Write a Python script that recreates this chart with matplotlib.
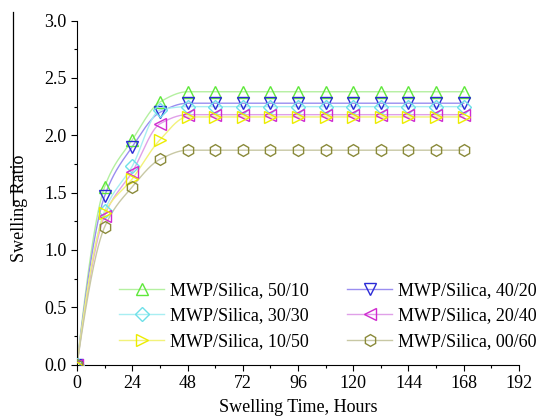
import numpy as np
import matplotlib
matplotlib.use("Agg")
import matplotlib.pyplot as plt
from matplotlib.lines import Line2D
from matplotlib.ticker import MultipleLocator

plt.rcParams['font.family'] = ['Liberation Serif', 'DejaVu Serif']

hours = [0, 12, 24, 36, 48, 60, 72, 84, 96, 108, 120, 132, 144, 156, 168]
labels = ["MWP/Silica, 50/10", "MWP/Silica, 40/20", "MWP/Silica, 30/30",
          "MWP/Silica, 20/40", "MWP/Silica, 10/50", "MWP/Silica, 00/60"]
s50_10 = [0, 1.55, 1.96, 2.29, 2.38, 2.38, 2.38, 2.38, 2.38, 2.38, 2.38, 2.38, 2.38, 2.38, 2.38]
s40_20 = [0, 1.47, 1.90, 2.20, 2.28, 2.28, 2.28, 2.28, 2.28, 2.28, 2.28, 2.28, 2.28, 2.28, 2.28]
s30_30 = [0, 1.34, 1.73, 2.22, 2.25, 2.25, 2.25, 2.25, 2.25, 2.25, 2.25, 2.25, 2.25, 2.25, 2.25]
s20_40 = [0, 1.30, 1.68, 2.10, 2.18, 2.18, 2.18, 2.18, 2.18, 2.18, 2.18, 2.18, 2.18, 2.18, 2.18]
s10_50 = [0, 1.32, 1.62, 1.96, 2.16, 2.16, 2.16, 2.16, 2.16, 2.16, 2.16, 2.16, 2.16, 2.16, 2.16]
s00_60 = [0, 1.20, 1.55, 1.79, 1.87, 1.87, 1.87, 1.87, 1.87, 1.87, 1.87, 1.87, 1.87, 1.87, 1.87]
series = [s50_10, s40_20, s30_30, s20_40, s10_50, s00_60]

markers = ['^', 'v', 'D', '<', '>', 'h']
msizes = [9, 9, 7, 9, 9, 8.5]
mcolors = ['#5ee83a', '#2b2bd6', '#6ee0e8', '#d02ad0', '#ecec00', '#8a8a3a']
lcolors = ['#b4f0a0', '#9a8ef0', '#a8eef2', '#e0a0e8', '#f2f27a', '#c8c8a4']


def pchip(x, y, xn):
    x = np.asarray(x, float); y = np.asarray(y, float)
    h = np.diff(x); d = np.diff(y) / h
    n = len(x); m = np.zeros(n)
    for k in range(1, n - 1):
        if d[k - 1] * d[k] > 0:
            w1 = 2 * h[k] + h[k - 1]; w2 = h[k] + 2 * h[k - 1]
            m[k] = (w1 + w2) / (w1 / d[k - 1] + w2 / d[k])
    m0 = ((2 * h[0] + h[1]) * d[0] - h[0] * d[1]) / (h[0] + h[1])
    if np.sign(m0) != np.sign(d[0]):
        m0 = 0
    elif abs(m0) > 3 * abs(d[0]):
        m0 = 3 * d[0]
    m[0] = m0
    m[-1] = 0
    idx = np.clip(np.searchsorted(x, xn) - 1, 0, n - 2)
    t = (xn - x[idx]) / h[idx]
    h00 = 2 * t**3 - 3 * t**2 + 1
    h10 = t**3 - 2 * t**2 + t
    h01 = -2 * t**3 + 3 * t**2
    h11 = t**3 - t**2
    return h00 * y[idx] + h10 * h[idx] * m[idx] + h01 * y[idx + 1] + h11 * h[idx] * m[idx + 1]


fig = plt.figure(figsize=(5.44, 4.2), dpi=100)
ax = fig.add_axes([77 / 544, 1 - 364.5 / 420, (519 - 77) / 544, (364.5 - 20.7) / 420])

xs = np.linspace(hours[0], hours[-1], 600)
handles = []
for s, mk, ms, mc, lc, lab in zip(series, markers, msizes, mcolors, lcolors, labels):
    ax.plot(xs, pchip(hours, s, xs), color=lc, lw=1.0, zorder=2)
    ax.plot(hours, s, ls='none', marker=mk, ms=ms, mfc='none', mec=mc, mew=1.0, zorder=3)
    handles.append(Line2D([], [], color=lc, lw=1.0, marker=mk, ms=ms, mfc='none', mec=mc, mew=1.0, label=lab))

ax.set_xlim(0, 192)
ax.set_ylim(0, 3.0)
ax.xaxis.set_major_locator(MultipleLocator(24))
ax.xaxis.set_minor_locator(MultipleLocator(12))
ax.yaxis.set_major_locator(MultipleLocator(0.5))
ax.yaxis.set_minor_locator(MultipleLocator(0.25))
ax.yaxis.set_major_formatter(matplotlib.ticker.FormatStrFormatter('%.1f'))
ax.tick_params(which='major', direction='out', length=4, width=0.8, labelsize=13)
ax.tick_params(which='minor', direction='out', length=2.5, width=0.8)
for sp in ['top', 'right']:
    ax.spines[sp].set_visible(False)
for sp in ['left', 'bottom']:
    ax.spines[sp].set_linewidth(0.8)

ax.set_xlabel("Swelling Time, Hours", fontsize=13)
ax.set_ylabel("Swelling Ratio", fontsize=13)
ax.yaxis.set_label_coords((20 - 77) / 442, (364.5 - 208) / 343.8)
ax.xaxis.set_label_coords(0.5, -(408 - 364.5) / 343.8)
ax.xaxis.label.set_va('center')
ax.yaxis.label.set_va('center')

order = [0, 2, 4, 1, 3, 5]
ax.legend([handles[i] for i in order], [labels[i] for i in order], ncol=2, frameon=False,
          loc='upper left', bbox_to_anchor=(119 / 544, 1 - 282 / 420), bbox_transform=fig.transFigure,
          borderpad=0, borderaxespad=0, fontsize=13, handlelength=2.5, handletextpad=0.3,
          columnspacing=2.15, labelspacing=0.47)

fig.add_artist(Line2D([12.5 / 544, 12.5 / 544], [1 - 12 / 420, 1 - 205 / 420],
                      color='black', lw=0.9, transform=fig.transFigure))

fig.savefig("out.png", dpi=100)
